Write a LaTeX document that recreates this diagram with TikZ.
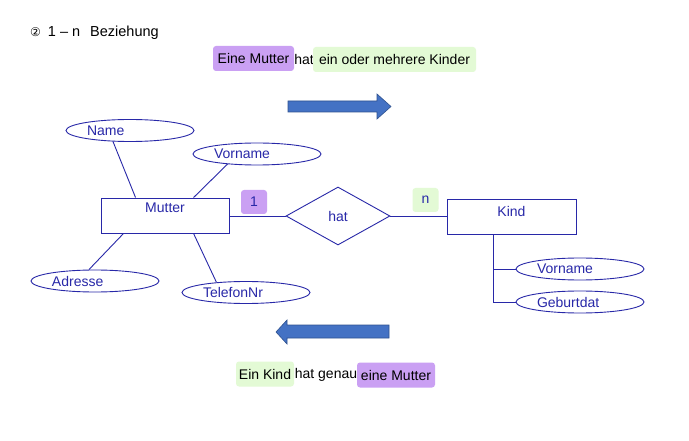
\documentclass[tikz,border=0pt]{standalone}
\usepackage{fontspec}
\setmainfont{Liberation Sans}
\newfontfamily\dejavu{DejaVu Sans}
\usetikzlibrary{shapes.geometric,calc}
\definecolor{erblue}{RGB}{40,40,168}
\definecolor{hlpurple}{RGB}{202,160,243}
\definecolor{hlgreen}{RGB}{227,250,213}
\definecolor{arrfill}{RGB}{68,114,196}
\definecolor{arrdraw}{RGB}{47,82,143}
\tikzset{
  attr/.style={ellipse, draw=erblue, line width=0.9pt, minimum width=128pt, minimum height=22pt,
    inner sep=0pt, text width=86pt, align=left, text=erblue, font=\fontsize{14}{16}\selectfont},
  entity/.style={rectangle, draw=erblue, line width=0.9pt, minimum width=128pt, minimum height=35pt,
    inner sep=0pt, text=erblue, font=\fontsize{14}{16}\selectfont},
  relation/.style={diamond, draw=erblue, line width=0.9pt, minimum width=104pt, minimum height=58pt,
    inner sep=0pt, text=erblue, font=\fontsize{14}{16}\selectfont},
  conn/.style={draw=erblue, line width=0.9pt},
  hlp/.style={fill=hlpurple, rounded corners=3pt, inner sep=0pt, font=\fontsize{14}{16}\selectfont},
  hlg/.style={fill=hlgreen, rounded corners=3pt, inner sep=0pt, font=\fontsize{14}{16}\selectfont},
  plain/.style={inner sep=0pt, font=\fontsize{14}{16}\selectfont},
  bigarrow/.style={fill=arrfill, draw=arrdraw, line width=0.6pt}
}
\begin{document}
\begin{tikzpicture}[x=1pt,y=-1pt]
\useasboundingbox[fill=white] (0,0) rectangle (689,441);

% title
\node[plain, anchor=base west, font=\fontsize{14.5}{16}\selectfont] (title) at (30,37) {{\dejavu\fontsize{12}{14}\selectfont ②}\hspace{7pt}1 -- n\hspace{10pt}Beziehung};

% top sentence
\node[hlp, minimum width=81pt, minimum height=25pt] (t1) at (253.5,58.5) {Eine Mutter};
\node[plain] (t2) at (304,59) {hat};
\node[hlg, minimum width=163pt, minimum height=25pt] (t3) at (394.5,59.5) {ein oder mehrere Kinder};

% arrows
\draw[bigarrow] (288,101) -- (377,101) -- (377,94) -- (391,106.5) -- (377,119) -- (377,112) -- (288,112) -- cycle;
\draw[bigarrow] (389,325) -- (287,325) -- (287,320) -- (276,332) -- (287,344) -- (287,338) -- (389,338) -- cycle;

% entities
\node[entity, text depth=15pt] (mutter) at (165,215.5) {Mutter};
\node[entity, minimum width=129pt, text depth=10pt] (kind) at (511.5,216.5) {Kind};
\node[relation] (hat) at (338,216) {hat\hspace{22pt}};

% attributes
\node[attr] (name) at (130,130.5) {Name};
\node[attr] (mvor) at (257,154) {Vorname};
\node[attr] (adr) at (95,281) {Adresse};
\node[attr] (tel) at (246,292.5) {TelefonNr};
\node[attr] (kvor) at (580,269) {Vorname};
\node[attr] (geb) at (580,302) {Geburtdat};

% cardinalities
\node[hlp, minimum width=26pt, minimum height=24pt, text=erblue] (c1) at (254,202) {1};
\node[hlg, minimum width=26pt, minimum height=24pt, text=erblue] (cn) at (425.5,200) {n};

% connectors
\draw[conn] (name.213) -- ([xshift=35pt]mutter.north west);
\draw[conn] (mvor.199) -- ([xshift=93pt]mutter.north west);
\draw[conn] (adr.118) -- ([xshift=23pt]mutter.south west);
\draw[conn] (tel.161) -- ([xshift=93pt]mutter.south west);
\draw[conn] (hat.west) -- (hat.west -| mutter.east);
\draw[conn] (hat.east) -- (hat.east -| kind.west);
\draw[conn] ([xshift=47pt]kind.south west) |- (kvor.west);
\draw[conn] ([xshift=47pt]kind.south west) |- (geb.west);

% bottom sentence
\node[hlg, minimum width=58pt, minimum height=25pt] (b1) at (265,374) {Ein Kind};
\node[plain] (b2) at (326,374.5) {hat genau};
\node[hlp, minimum width=78pt, minimum height=25pt] (b3) at (396,375) {eine Mutter};
\end{tikzpicture}
\end{document}
